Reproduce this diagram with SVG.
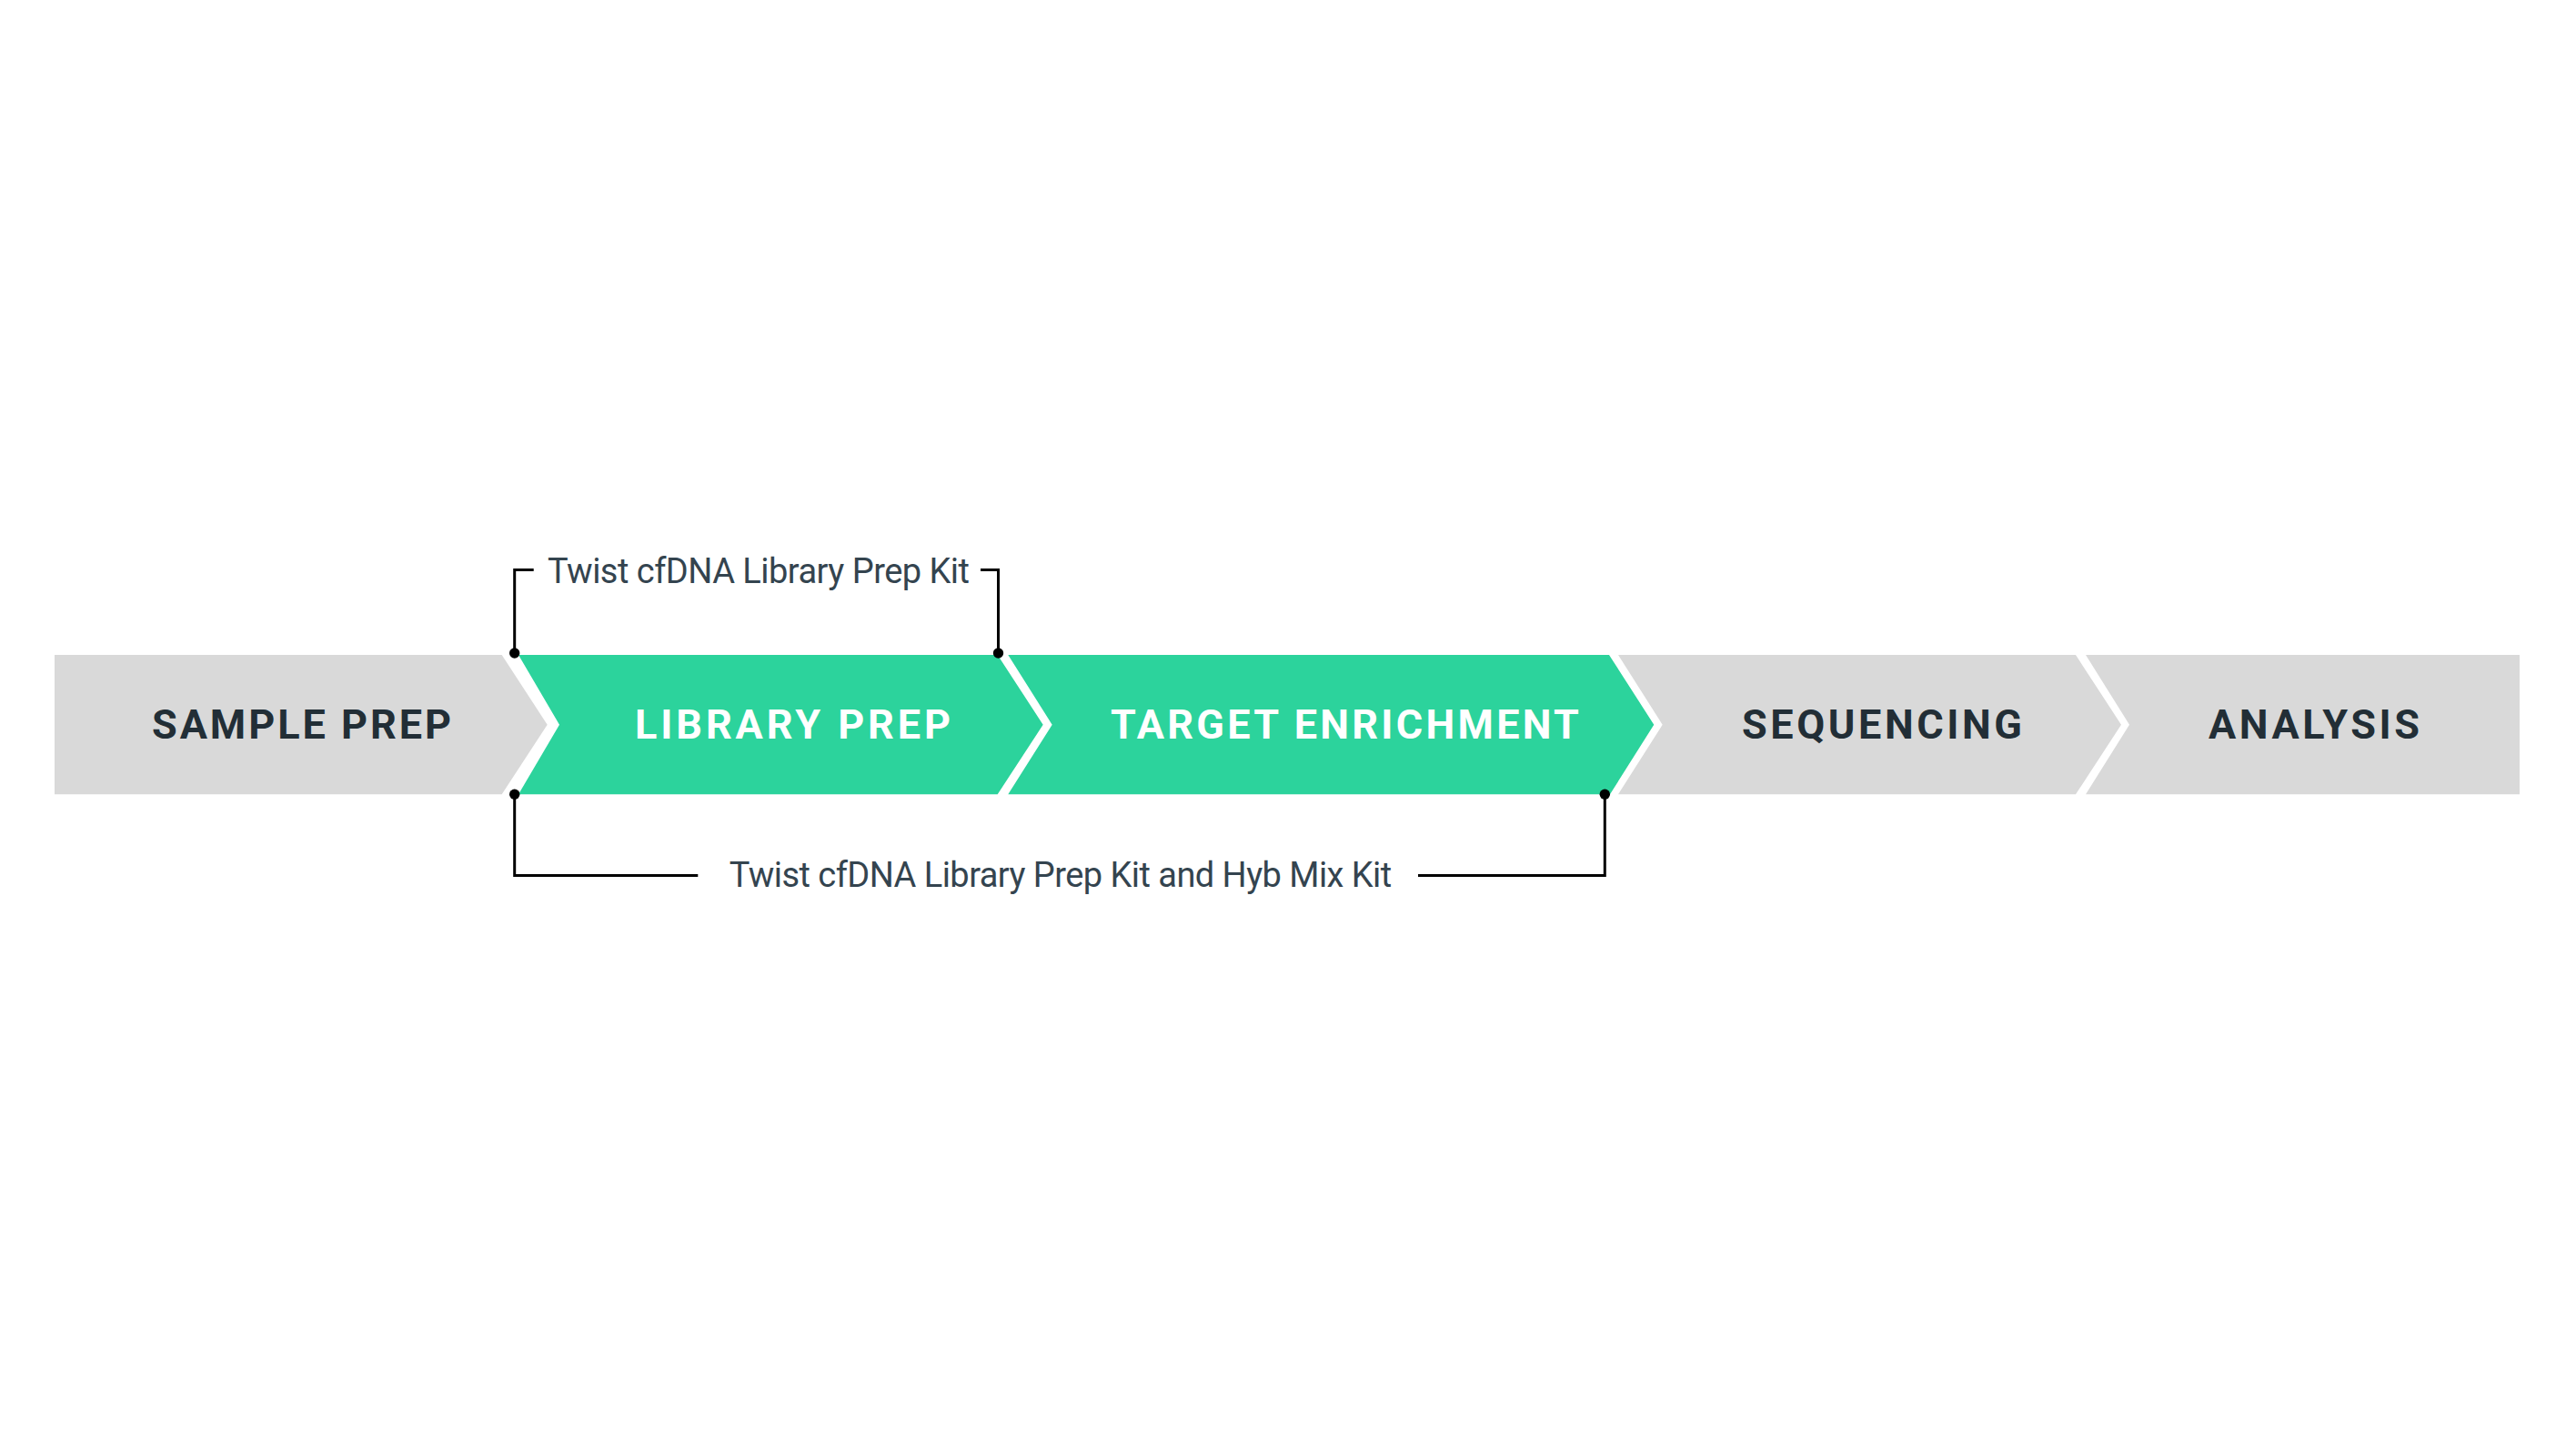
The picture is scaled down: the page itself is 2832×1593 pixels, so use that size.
<svg xmlns="http://www.w3.org/2000/svg" width="2832" height="1593" viewBox="0 0 2832 1593">
  <style>
    .gray { fill: #d9d9d9; }
    .green { fill: #2cd39c; }
    .step { font-family: Roboto, "Liberation Sans", sans-serif; font-weight: 700; font-size: 45px; }
    .dark { fill: #222e36; }
    .light { fill: #ffffff; }
    .label { font-family: Roboto, "Liberation Sans", sans-serif; font-weight: 400; font-size: 38px; fill: #34444f; }
    .bracket { fill: none; stroke: #000000; stroke-width: 3; }
    .dot { fill: #000000; }
  </style>
  <rect width="2832" height="1593" fill="#ffffff"/>

  <g id="sample-prep">
    <polygon class="gray" points="60,720 551.7,720 601.7,796.7 551.7,873.3 60,873.3"/>
    <text class="step dark" x="167" y="812" textLength="329" lengthAdjust="spacing">SAMPLE PREP</text>
  </g>

  <g id="library-prep">
    <polygon class="green" points="570,720 1096.7,720 1146.7,796.7 1096.7,873.3 570,873.3 615,796.7"/>
    <text class="step light" x="698" y="812" textLength="347" lengthAdjust="spacing">LIBRARY PREP</text>
  </g>

  <g id="target-enrichment">
    <polygon class="green" points="1108.3,720 1769,720 1818.3,796.7 1770,873.3 1108.3,873.3 1156.7,796.7"/>
    <text class="step light" x="1221" y="812" textLength="515" lengthAdjust="spacing">TARGET ENRICHMENT</text>
  </g>

  <g id="sequencing">
    <polygon class="gray" points="1779,720 2282,720 2332,796.7 2282,873.3 1779,873.3 1827.7,796.7"/>
    <text class="step dark" x="1915" y="812" textLength="308" lengthAdjust="spacing">SEQUENCING</text>
  </g>

  <g id="analysis">
    <polygon class="gray" points="2293,720 2770,720 2770,873.3 2293,873.3 2341,796.7"/>
    <text class="step dark" x="2428" y="812" textLength="232" lengthAdjust="spacing">ANALYSIS</text>
  </g>

  <g id="connectors">
    <polyline class="bracket" points="586.7,626.5 565.7,626.5 565.7,718"/>
    <polyline class="bracket" points="1078,626.5 1097.5,626.5 1097.5,718"/>
    <circle class="dot" cx="565.7" cy="718" r="5.7"/>
    <circle class="dot" cx="1097.5" cy="718" r="5.7"/>
    <polyline class="bracket" points="565.7,873.3 565.7,962.5 767.3,962.5"/>
    <polyline class="bracket" points="1559,962.5 1764.3,962.5 1764.3,873.3"/>
    <circle class="dot" cx="565.7" cy="873.3" r="5.7"/>
    <circle class="dot" cx="1764.3" cy="873.3" r="5.7"/>
  </g>

  <g id="label-top">
    <text class="label" x="602" y="641" textLength="464" lengthAdjust="spacing">Twist cfDNA Library Prep Kit</text>
  </g>
  <g id="label-bottom">
    <text class="label" x="801.7" y="975" textLength="728.5" lengthAdjust="spacing">Twist cfDNA Library Prep Kit and Hyb Mix Kit</text>
  </g>
</svg>
